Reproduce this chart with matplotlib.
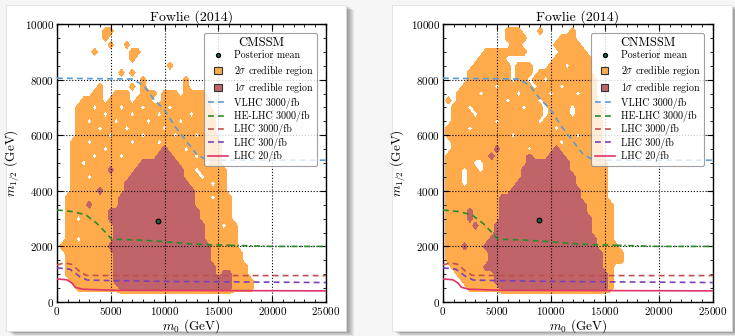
import numpy as np
import matplotlib
matplotlib.use('Agg')
import matplotlib.pyplot as plt
from matplotlib.patches import Rectangle, Patch
from matplotlib.lines import Line2D
from matplotlib.legend_handler import HandlerPatch
from matplotlib.ticker import MultipleLocator

plt.rcParams['font.family'] = 'serif'
plt.rcParams['font.serif'] = ['cmr10']
plt.rcParams['mathtext.fontset'] = 'cm'
plt.rcParams['axes.formatter.use_mathtext'] = True

# posterior grid: m0 every 500 GeV (0..20000), m1/2 every 250 GeV (10000 down to 0)
# run-length rows, '.' outside, 'o' = 2 sigma, 'x' = 1 sigma
m0_grid = np.arange(41) * 500
m12_grid = 10000 - np.arange(41) * 250

cmssm_rows = [
    "", "9. 2o", "9. 1o", "10. 1o 2. 1o", "7. 1o 6. 2o", "14. 1o", "21. 1o",
    "12. 1o 1. 1o", "16. 1o 7. 1o", "8. 1o 5. 1o 1. 1o 7. 1o",
    "7. 2o 2. 3o 2. 3o 1. 3o 1. 4o",
    "5. 4o 1. 4o 1. 3o 2. 9o",
    "4. 3o 1. 4o 1. 3o 1. 4o 1. 7o",
    "4. 5o 1. 4o 1. 4o 1. 5o 1. 4o",
    "4. 2o 1. 4o 1. 5o 1. 5o 1. 6o",
    "4. 4o 1. 4o 1. 6o 1. 9o",
    "4. 6o 1. 5o 1. 5o 1. 3o 1. 3o",
    "3. 3o 1. 7o 1. 4o 1. 11o",
    "3. 6o 1. 10o 1x 3o 1. 6o",
    "3. 4o 1. 4o 1. 6o 3x 4o 1. 4o",
    "3. 2o 1. 10o 7x 5o 1. 2o",
    "3. 7o 1x 4o 9x 2o 1. 5o",
    "3. 3o 1. 7o 10x 3o 1. 4o",
    "3. 10o 12x 4o 1. 2o",
    "3. 5o 1x 4o 13x 6o",
    "2. 10o 14x 3o 1. 3o",
    "2. 4o 1x 5o 14x 7o",
    "2. 8o 17x 6o",
    "2. 2o 1. 5o 17x 6o",
    "2. 9o 17x 3o 1. 2o",
    "2. 9o 17x 6o",
    "2. 2o 1. 6o 17x 6o",
    "1. 9o 19x 5o",
    "2. 9o 18x 6o",
    "2. 9o 18x 6o",
    "2. 9o 19x 6o",
    "2. 9o 19x 1o 2x 3o",
    "3. 8o 22x 4o",
    "4. 8o 21x 4o",
    "", "",
]

cnmssm_rows = [
    "", "12. 3o 3. 1o 5. 1o", "12. 4o 6. 3o", "13. 2o 6. 5o", "8. 8o 6. 5o",
    "7. 5o 9. 7o",
    "6. 7o 1. 3o 3. 3o 1. 4o",
    "5. 8o 1. 3o 1. 10o",
    "5. 8o 1. 2o 1. 2o 1. 9o",
    "4. 6o 1. 6o 1. 4o 1. 6o",
    "3. 4o 1. 6o 1. 5o 1. 4o 1. 3o",
    "1. 1o 1. 9o 1. 5o 1. 10o",
    "2. 3o 1. 9o 1. 3o 1. 4o 1. 5o",
    "2. 4o 1. 12o 1. 4o 1. 5o",
    "2. 8o 1. 7o 1. 11o",
    "1. 4o 1. 15o 1. 8o",
    "1. 12o 1. 11o 1. 4o",
    "2. 20o 1. 7o",
    "2. 8o 1x 5o 1. 4o 1x 8o",
    "1. 8o 1x 6o 1x 3o 3x 7o",
    "1. 5o 2. 8o 8x 7o",
    "1. 3o 1. 2o 1. 7o 9x 7o",
    "1. 3o 1. 10o 10x 6o",
    "1. 3o 1. 9o 11x 6o",
    "1. 12o 13x 5o",
    "1. 10o 15x 5o",
    "1. 10o 16x 5o",
    "1. 4o 1x 5o 16x 5o",
    "1. 4o 1x 5o 17x 4o",
    "1. 5o 1x 3o 18x 4o",
    "1. 9o 18x 4o",
    "1. 8o 20x 3o",
    "1. 3o 1x 3o 21x 4o",
    "1. 8o 21x 4o",
    "1. 8o 21x 4o",
    "2. 6o 22x 2o",
    "3. 7o 21x 1o",
    "4. 6o 21x 1o",
    "5. 6o 20x 1o",
    "", "",
]

cmssm_mean = (9400, 2900)
cnmssm_mean = (8900, 2950)

# reach curves (same in both panels)
vlhc_m0 = [0, 7000, 8000, 9000, 10000, 11000, 12000, 13000, 14000, 25000]
vlhc_m12 = [8050, 8020, 7800, 7300, 6900, 6300, 5800, 5300, 5100, 5100]
helhc_m0 = [0, 1500, 2700, 3700, 4600, 5100, 6000, 8000, 10000, 12000, 14000, 16000]
helhc_m12 = [3310, 3250, 3130, 2830, 2470, 2250, 2250, 2220, 2170, 2100, 2060, 2040]
helhc_tail_m0 = [16000, 20000, 25000]
helhc_tail_m12 = [2040, 2000, 2000]
lhc3000_m0 = [0, 700, 1400, 2100, 2700, 5000, 25000]
lhc3000_m12 = [1330, 1410, 1350, 1100, 960, 950, 950]
lhc300_m0 = [0, 1200, 2100, 2800, 5000, 10000, 25000]
lhc300_m12 = [1230, 1180, 920, 790, 770, 740, 700]
lhc20_m0 = [0, 900, 1400, 1700, 2400, 5500, 25000]
lhc20_m12 = [830, 800, 680, 530, 460, 420, 400]

ORANGE = '#ffab4c'
DARK = '#c0646a'
C_VLHC = '#5a9bd4'
C_HE = '#2a8a2a'
C_3000 = '#c0504d'
C_300 = '#7d3fb8'
C_20 = '#e0356b'
LEVEL = {'.': 0, 'o': 1, 'x': 2}
DASH = (0, (3.5, 2.5))


def decode(rows):
    z = np.zeros((len(m12_grid), len(m0_grid)))
    for i, row in enumerate(rows):
        j = 0
        for tok in row.split():
            n = int(tok[:-1])
            z[i, j:j + n] = LEVEL[tok[-1]]
            j += n
    return z


def square_patch(legend, orig_handle, xdescent, ydescent, width, height, fontsize):
    s = 5.4
    return Rectangle((-xdescent + (width - s) / 2, -ydescent + (height - s) / 2), s, s)


W, H = 735, 336
fig = plt.figure(figsize=(W / 100, H / 100), dpi=100)
fig.patch.set_facecolor('#f5f5f5')

# cards with a soft shadow
for x0 in (6, 392):
    for k in range(8, 0, -1):
        fig.add_artist(Rectangle(((x0 + k) / W, 1 - (331 + k * 0.6) / H), 340 / W, 326 / H,
                                 transform=fig.transFigure, fc='#000000', ec='none',
                                 alpha=0.06, zorder=-20))
    fig.add_artist(Rectangle((x0 / W, 1 - 331 / H), 340 / W, 326 / H,
                             transform=fig.transFigure, fc='white', ec='#dddddd',
                             lw=0.5, zorder=-10))


def draw_panel(ax, rows, mean, name):
    z = decode(rows)
    ax.contourf(m0_grid, m12_grid, z, levels=[0.5, 1.5, 2.5], colors=[ORANGE, DARK], zorder=1)
    ax.plot(vlhc_m0, vlhc_m12, ls=DASH, color=C_VLHC, lw=1.2, zorder=3)
    ax.plot(helhc_m0, helhc_m12, ls=DASH, color=C_HE, lw=1.2, zorder=3)
    ax.plot(helhc_tail_m0, helhc_tail_m12, ls=(0, (3.5, 1.5, 1, 1.5)), color=C_HE, lw=1.2, zorder=3)
    ax.plot(lhc3000_m0, lhc3000_m12, ls=DASH, color=C_3000, lw=1.2, zorder=3)
    ax.plot(lhc300_m0, lhc300_m12, ls=DASH, color=C_300, lw=1.2, zorder=3)
    ax.plot(lhc20_m0, lhc20_m12, ls='-', color=C_20, lw=1.2, zorder=3)
    ax.plot([mean[0]], [mean[1]], 'o', ms=3.4, mfc='#1d5a3c', mec='black', mew=0.8, zorder=4)

    ax.set_xlim(0, 25000)
    ax.set_ylim(0, 10000)
    ax.xaxis.set_major_locator(MultipleLocator(5000))
    ax.xaxis.set_minor_locator(MultipleLocator(1000))
    ax.yaxis.set_major_locator(MultipleLocator(2000))
    ax.yaxis.set_minor_locator(MultipleLocator(500))
    ax.tick_params(which='both', direction='in', top=True, right=True, labelsize=8, pad=2)
    ax.tick_params(which='major', length=4, width=0.8)
    ax.tick_params(which='minor', length=2, width=0.6)
    ax.grid(True, which='major', ls=':', color='black', lw=0.8)
    ax.set_axisbelow(False)
    for s in ax.spines.values():
        s.set_linewidth(1.0)
    ax.set_title('Fowlie (2014)', fontsize=10, pad=2)
    ax.set_xlabel(r'$m_0$ (GeV)', fontsize=9.5, labelpad=0)
    ax.set_ylabel(r'$m_{1/2}$ (GeV)', fontsize=9.5, labelpad=2)

    handles = [
        Line2D([], [], marker='o', ls='none', ms=3, mfc='#1d5a3c', mec='black', mew=0.8),
        Patch(fc=ORANGE, ec='#333333', lw=0.8),
        Patch(fc=DARK, ec='#333333', lw=0.8),
        Line2D([], [], ls=DASH, color=C_VLHC, lw=1.2),
        Line2D([], [], ls=DASH, color=C_HE, lw=1.2),
        Line2D([], [], ls=DASH, color=C_3000, lw=1.2),
        Line2D([], [], ls=DASH, color=C_300, lw=1.2),
        Line2D([], [], ls='-', color=C_20, lw=1.2),
    ]
    labels = ['Posterior mean', r'2$\sigma$ credible region', r'1$\sigma$ credible region',
              'VLHC 3000/fb', 'HE-LHC 3000/fb', 'LHC 3000/fb', 'LHC 300/fb', 'LHC 20/fb']
    leg = ax.legend(handles, labels, title=name, loc='upper right',
                    bbox_to_anchor=(0.968, 0.968), fontsize=7.2, title_fontsize=9,
                    handlelength=2.0, handletextpad=0.65, labelspacing=0.24,
                    borderpad=0.35, borderaxespad=0, framealpha=0.8,
                    edgecolor='#888888', fancybox=True,
                    handler_map={Patch: HandlerPatch(patch_func=square_patch)})
    leg.get_frame().set_linewidth(0.8)
    leg.set_zorder(5)


ax1 = fig.add_axes([57 / W, 1 - 302 / H, 269 / W, 278 / H])
ax2 = fig.add_axes([443 / W, 1 - 302 / H, 270 / W, 278 / H])
draw_panel(ax1, cmssm_rows, cmssm_mean, 'CMSSM')
draw_panel(ax2, cnmssm_rows, cnmssm_mean, 'CNMSSM')

fig.savefig('out.png', dpi=100, facecolor=fig.get_facecolor())
